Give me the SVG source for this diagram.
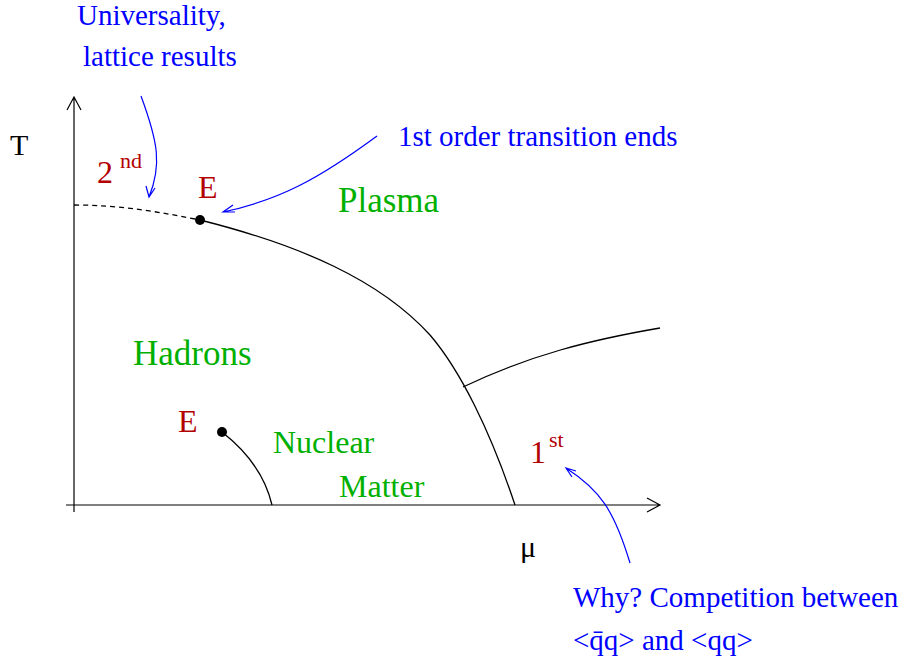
<svg xmlns="http://www.w3.org/2000/svg" width="904" height="667" viewBox="0 0 904 667">
<style>
text{font-family:"Liberation Serif","Times New Roman",serif;}
.blue{fill:#0000ff;font-size:29px;}
.red{fill:#b30000;font-size:32px;}
.green{fill:#00b000;font-size:35px;}
.green.sm{font-size:32px;}
.ax{fill:none;stroke:#000;stroke-width:1.2;}
.ln{fill:none;stroke:#000;stroke-width:1.3;}
.bl{fill:none;stroke:#0000ff;stroke-width:1.2;}
</style>
<rect width="904" height="667" fill="#fff"/>
<g id="connectors">
<path class="ax" d="M74,512 V97 M67,110 L74,97 L81,110"/>
<path class="ax" d="M66,505 H660 M647,498 L660,505 L647,512"/>
<path class="ln" d="M74,205 C120,205 160,212 200,220" stroke-dasharray="5,4"/>
<path class="ln" d="M200,220 C300,245 380,280 430,335 C460,370 490,430 515,505"/>
<path class="ln" d="M463,387 C530,355 590,340 660,328"/>
<path class="ln" d="M222,432 C245,450 265,475 272,505"/>
<path class="bl" d="M141,96 C158,142 162,165 149,197 M146,186 L149,197 L155,188"/>
<path class="bl" d="M377,136 C320,178 280,200 223,212 M233,205 L223,212 L235,212"/>
<path class="bl" d="M630,563 C614,510 600,490 566,468 M576,471 L566,468 L572,477"/>
</g>
<g id="E-top"><circle cx="200" cy="220" r="5"/><text class="red" x="198" y="198">E</text></g>
<g id="E-bottom"><circle cx="222" cy="432" r="5"/><text class="red" x="178" y="432">E</text></g>
<g id="second"><text class="red" x="97" y="183">2<tspan font-size="22" dx="7" dy="-15">nd</tspan></text></g>
<g id="first"><text class="red" x="530" y="463">1<tspan font-size="22" dx="3" dy="-16">st</tspan></text></g>
<g id="plasma"><text class="green" x="338" y="212">Plasma</text></g>
<g id="hadrons"><text class="green" x="133" y="365">Hadrons</text></g>
<g id="nuclear"><text class="green sm" x="273" y="453">Nuclear</text><text class="green sm" x="339" y="497">Matter</text></g>
<g id="axis-labels"><text x="10" y="155" font-size="30">T</text><text x="520" y="557" font-size="30">μ</text></g>
<g id="universality"><text class="blue" x="77" y="25">Universality,</text><text class="blue" x="83" y="66">lattice results</text></g>
<g id="first-order"><text class="blue" x="398" y="146">1st order transition ends</text></g>
<g id="why"><text class="blue" x="573" y="607">Why? Competition between</text><text class="blue" x="573" y="650">&lt;q̄q&gt; and &lt;qq&gt;</text></g>
</svg>
